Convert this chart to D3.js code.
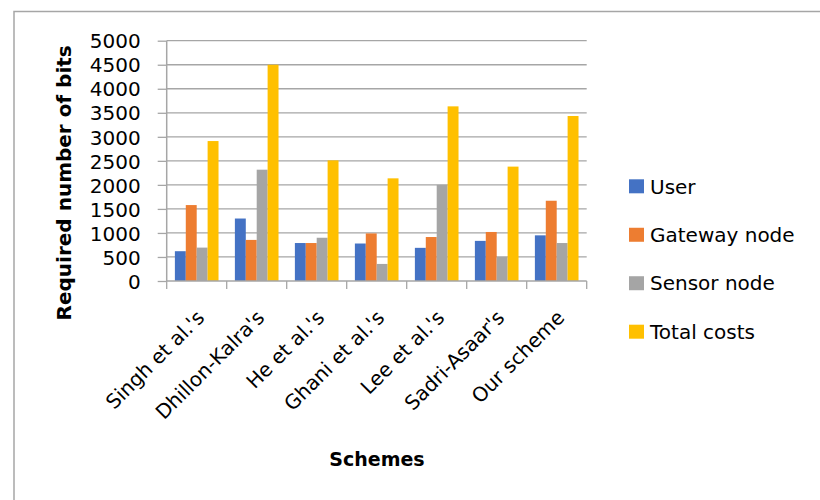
<!DOCTYPE html>
<html>
<head>
<meta charset="utf-8">
<script src="https://cdn.jsdelivr.net/npm/d3@7"></script>
<style>
  html, body { margin: 0; padding: 0; background: #fff; }
  svg { display: block; font-family: "DejaVu Sans", sans-serif; }
</style>
</head>
<body>
<svg id="chart" width="820" height="500"></svg>
<script>
// Communication cost comparison (required number of bits per scheme)
const schemes = ["Singh et al.'s", "Dhillon-Kalra's", "He et al.'s", "Ghani et al.'s", "Lee et al.'s", "Sadri-Asaar's", "Our scheme"];
const seriesNames = ["User", "Gateway node", "Sensor node", "Total costs"];
const userBits    = [620, 1300, 790, 780, 690, 835, 950];
const gatewayBits = [1580, 855, 790, 990, 915, 1020, 1670];
const sensorBits  = [695, 2316, 900, 355, 2000, 500, 790];
const totalBits   = [2912, 4500, 2510, 2136, 3634, 2380, 3433];
const yTicks = [0, 500, 1000, 1500, 2000, 2500, 3000, 3500, 4000, 4500, 5000];
const colors = ["#4472C4", "#ED7D31", "#A5A5A5", "#FFC000"];

const seriesValues = [userBits, gatewayBits, sensorBits, totalBits];

const svg = d3.select("#chart");

// outer frame
svg.append("rect")
  .attr("x", 14).attr("y", 11.5)
  .attr("width", 830).attr("height", 520)
  .attr("fill", "none").attr("stroke", "#a6a6a6").attr("stroke-width", 1.5);

const plot = { left: 166.7, right: 586.7, top: 40.7, bottom: 281 };

const x = d3.scaleBand().domain(schemes).range([plot.left, plot.right]).paddingInner(0).paddingOuter(0);
const inner = d3.scaleBand().domain(seriesNames).range([0, x.bandwidth()]).paddingInner(0).paddingOuter(0.75);
const y = d3.scaleLinear().domain([0, 5000]).range([plot.bottom, plot.top]);

// horizontal gridlines
svg.append("g")
  .selectAll("line")
  .data(yTicks.filter(d => d > 0))
  .join("line")
  .attr("x1", plot.left).attr("x2", plot.right)
  .attr("y1", d => y(d)).attr("y2", d => y(d))
  .attr("stroke", "#a6a6a6").attr("stroke-width", 1.3);

// bars
const groups = svg.append("g")
  .selectAll("g")
  .data(schemes)
  .join("g")
  .attr("transform", d => `translate(${x(d)},0)`);

groups.selectAll("rect")
  .data((d, i) => seriesNames.map((s, k) => ({ s, v: seriesValues[k][i], k })))
  .join("rect")
  .attr("x", d => inner(d.s))
  .attr("width", inner.bandwidth())
  .attr("y", d => y(d.v))
  .attr("height", d => y(0) - y(d.v))
  .attr("fill", d => colors[d.k]);

// y axis
const yAxis = svg.append("g")
  .attr("transform", `translate(${plot.left},0)`)
  .call(d3.axisLeft(y).tickValues(yTicks).tickSize(9).tickPadding(17).tickFormat(d3.format("d")));
yAxis.select(".domain").attr("stroke", "#a6a6a6").attr("stroke-width", 1.5).attr("d", `M0,${plot.top}V${plot.bottom}`);
yAxis.selectAll(".tick line").attr("stroke", "#a6a6a6").attr("stroke-width", 1.3);
yAxis.selectAll(".tick text")
  .attr("fill", "#000").attr("font-size", 20).attr("font-family", "DejaVu Sans")
  .attr("dy", "0.36em");

// x axis with ticks on category boundaries
const xAxisG = svg.append("g");
xAxisG.append("line")
  .attr("x1", plot.left).attr("x2", plot.right)
  .attr("y1", plot.bottom).attr("y2", plot.bottom)
  .attr("stroke", "#a6a6a6").attr("stroke-width", 1.5);
const boundaries = schemes.map(s => x(s)).concat([plot.right]);
xAxisG.selectAll("line.b")
  .data(boundaries)
  .join("line")
  .attr("class", "b")
  .attr("x1", d => d).attr("x2", d => d)
  .attr("y1", plot.bottom).attr("y2", plot.bottom + 8)
  .attr("stroke", "#a6a6a6").attr("stroke-width", 1.3);

xAxisG.selectAll("text")
  .data(schemes)
  .join("text")
  .attr("transform", d => `translate(${x(d) + x.bandwidth() / 2 - 1},${plot.bottom + 28}) rotate(-45)`)
  .attr("text-anchor", "end")
  .attr("dy", "0.7em")
  .attr("font-size", 20)
  .attr("fill", "#000")
  .text(d => d);

// axis titles
svg.append("text")
  .attr("transform", `translate(71,${(plot.top + plot.bottom) / 2 + 22}) rotate(-90)`)
  .attr("text-anchor", "middle")
  .attr("font-size", 20).attr("font-weight", "bold").attr("fill", "#000")
  .text("Required number of bits");

svg.append("text")
  .attr("x", 377).attr("y", 466)
  .attr("text-anchor", "middle")
  .attr("font-size", 19).attr("font-weight", "bold").attr("fill", "#000")
  .text("Schemes");

// legend
const legend = svg.append("g").attr("transform", "translate(629,0)");
const legendY = d3.scalePoint().domain(seriesNames).range([186.3, 331.7]);
const items = legend.selectAll("g").data(seriesNames).join("g")
  .attr("transform", d => `translate(0,${legendY(d)})`);
items.append("rect")
  .attr("x", 0).attr("y", -7).attr("width", 15).attr("height", 14)
  .attr("fill", (d, i) => colors[i]);
items.append("text")
  .attr("x", 21).attr("dy", "0.36em")
  .attr("font-size", 20).attr("fill", "#000")
  .text(d => d);
</script>
</body>
</html>
